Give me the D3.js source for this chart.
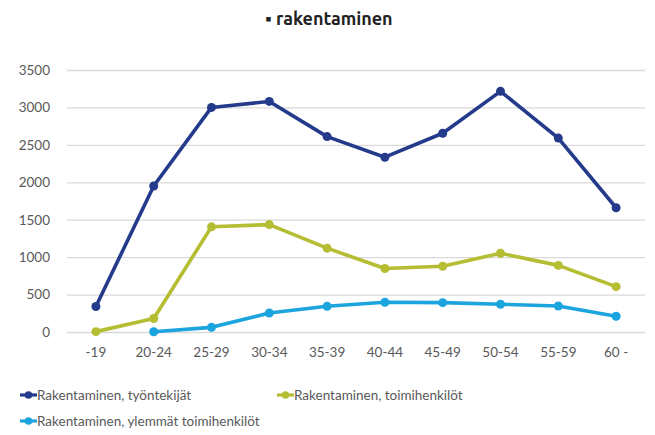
<!DOCTYPE html>
<html>
<head>
<meta charset="utf-8">
<script src="https://cdn.jsdelivr.net/npm/d3@7"></script>
<style>
  body { margin: 0; background: #fff; }
  svg { display: block; }
</style>
</head>
<body>
<svg id="chart" width="655" height="435"></svg>
<script>
// Ikäryhmät (x-akseli)
const categories = ['-19', '20-24', '25-29', '30-34', '35-39', '40-44', '45-49', '50-54', '55-59', '60 -'];
const yTicks = [0, 500, 1000, 1500, 2000, 2500, 3000, 3500];

const tyontekijat = [340, 1950, 3000, 3080, 2610, 2335, 2655, 3215, 2590, 1660];
const toimihenkilot = [5, 180, 1405, 1435, 1120, 848, 878, 1052, 890, 606];
const ylemmat = [null, 4, 62, 254, 343, 397, 392, 370, 348, 210];

const seriesNames = ['Rakentaminen, työntekijät', 'Rakentaminen, toimihenkilöt', 'Rakentaminen, ylemmät toimihenkilöt'];
const seriesColors = ['#243a8b', '#b5bd33', '#1ba4dd'];
const seriesValues = [tyontekijat, toimihenkilot, ylemmat];

const svg = d3.select('#chart');
const margin = { left: 67, right: 10, top: 70, bottom: 103 };

const x = d3.scaleBand()
    .domain(categories)
    .range([margin.left, 645]);

const y = d3.scaleLinear()
    .domain([0, 3500])
    .range([332, 70]);

// Otsikko
svg.append('text')
    .attr('x', 329)
    .attr('y', 25)
    .attr('text-anchor', 'middle')
    .attr('font-family', 'Ubuntu, "Open Sans", sans-serif')
    .attr('font-size', 18)
    .attr('font-weight', 'bold')
    .attr('fill', '#222')
    .text('▪ rakentaminen');

// Ruudukko + y-akseli
const yAxis = d3.axisLeft(y)
    .tickValues(yTicks)
    .tickFormat(d3.format('d'))
    .tickSize(-(645 - margin.left))
    .tickPadding(17);

const gy = svg.append('g')
    .attr('transform', `translate(${margin.left},0)`)
    .call(yAxis);
gy.select('.domain').remove();
gy.selectAll('.tick line').attr('stroke', '#d9d9d9').attr('stroke-width', 1.3);
gy.selectAll('.tick text')
    .attr('fill', '#595959')
    .attr('font-family', 'Lato, "Open Sans", sans-serif')
    .attr('font-size', 13.5);

// x-akseli
const xAxis = d3.axisBottom(x).tickSize(0).tickPadding(15);
const gx = svg.append('g')
    .attr('transform', 'translate(0,332)')
    .call(xAxis);
gx.select('.domain').remove();
gx.selectAll('.tick text')
    .attr('fill', '#595959')
    .attr('font-family', 'Lato, "Open Sans", sans-serif')
    .attr('font-size', 13.5);

// Viivat
const line = d3.line()
    .defined(d => d != null)
    .x((d, i) => x(categories[i]) + x.bandwidth() / 2)
    .y(d => y(d));

seriesValues.forEach((vals, s) => {
    svg.append('path')
        .datum(vals)
        .attr('fill', 'none')
        .attr('stroke', seriesColors[s])
        .attr('stroke-width', 3.6)
        .attr('stroke-linejoin', 'round')
        .attr('d', line);

    svg.append('g')
        .selectAll('circle')
        .data(vals.map((v, i) => ({ v, i })).filter(d => d.v != null))
        .join('circle')
        .attr('cx', d => x(categories[d.i]) + x.bandwidth() / 2)
        .attr('cy', d => y(d.v))
        .attr('r', 4.5)
        .attr('fill', seriesColors[s]);
});

// Selite
const legendPos = [[20, 395], [277, 395], [20, 421]];
seriesNames.forEach((name, s) => {
    const [lx, ly] = legendPos[s];
    const g = svg.append('g').attr('transform', `translate(${lx},${ly})`);
    g.append('line')
        .attr('x1', 0).attr('x2', 17)
        .attr('y1', 0).attr('y2', 0)
        .attr('stroke', seriesColors[s])
        .attr('stroke-width', 3.2);
    g.append('circle')
        .attr('cx', 8.5).attr('cy', 0).attr('r', 3.8)
        .attr('fill', seriesColors[s]);
    g.append('text')
        .attr('x', 17)
        .attr('y', 0)
        .attr('dy', '0.35em')
        .attr('fill', '#595959')
        .attr('font-family', 'Lato, "Open Sans", sans-serif')
        .attr('font-size', 13.5)
        .text(name);
});
</script>
</body>
</html>
